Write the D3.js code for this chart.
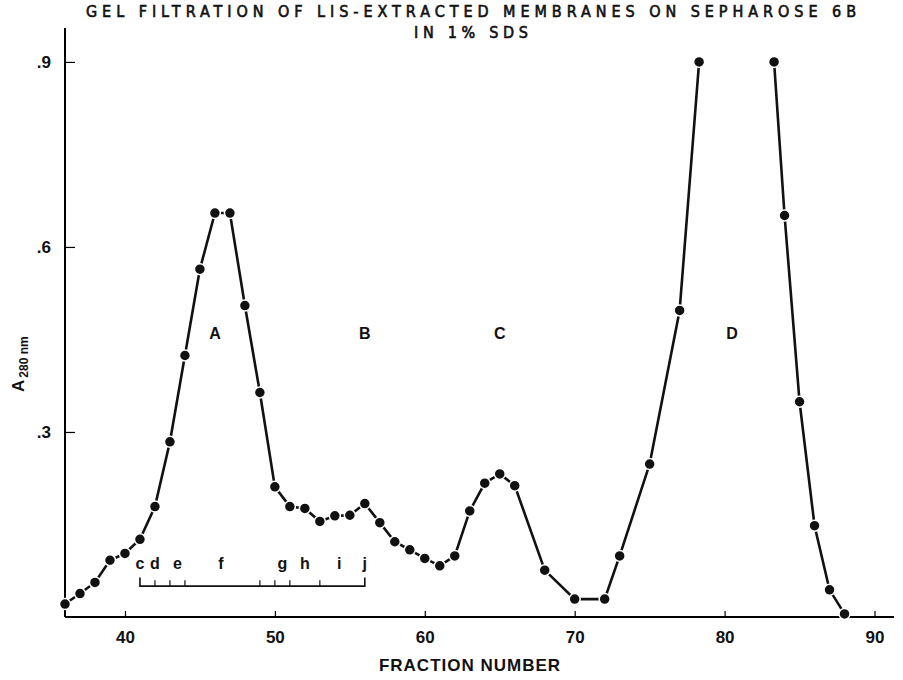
<!DOCTYPE html>
<html>
<head>
<meta charset="utf-8">
<script src="https://cdn.jsdelivr.net/npm/d3@7"></script>
<style>
  body { margin: 0; background: #fff; }
  text { font-family: "Liberation Sans", Arial, sans-serif; fill: #111; }
</style>
</head>
<body>
<svg id="chart"></svg>
<script>
// fraction numbers and A280 readings
var fractions = [36, 37, 38, 39, 40, 41, 42, 43, 44, 45, 46, 47, 48, 49, 50, 51, 52, 53, 54, 55,
  56, 57, 58, 59, 60, 61, 62, 63, 64, 65, 66, 68, 70, 72, 73, 75, 77, 78.3, 83.3, 84, 85, 86, 87, 88];
var absorbance = [0.021, 0.038, 0.056, 0.092, 0.103, 0.126, 0.179, 0.284, 0.424, 0.564, 0.655, 0.655,
  0.505, 0.364, 0.211, 0.179, 0.176, 0.155, 0.164, 0.165, 0.184, 0.153, 0.122, 0.109, 0.095, 0.083,
  0.099, 0.172, 0.217, 0.232, 0.213, 0.076, 0.029, 0.029, 0.099, 0.248, 0.497, 0.9, 0.9, 0.651,
  0.349, 0.148, 0.044, 0.005];

var xTicks = [40, 50, 60, 70, 80, 90];
var yTicks = [0.3, 0.6, 0.9];

var peakNames = ['A', 'B', 'C', 'D'];
var peakFractions = [46, 56, 65, 80.5];
var peakLevel = 0.46;

// pooled fractions bracket
var poolStart = 41, poolEnd = 56;
var poolTicks = [42, 43, 44, 49, 50, 51, 53];
var poolNames = ['c', 'd', 'e', 'f', 'g', 'h', 'i', 'j'];
var poolNameAt = [41, 42, 43.5, 46.4, 50.5, 52, 54.3, 56];

var W = 903, H = 680;
var svg = d3.select('#chart').attr('width', W).attr('height', H);

var x = d3.scaleLinear().domain([36, 91.3]).range([65, 894]);
var y = d3.scaleLinear().domain([0, 0.955]).range([617, 28]);

var data = fractions.map((f, i) => ({ f: f, v: absorbance[i] }));

var font = '"Liberation Sans", Arial, sans-serif';
var narrow = '"Liberation Sans Narrow", "DejaVu Sans Condensed", "Liberation Sans", sans-serif';

// x axis
var xAxis = d3.axisBottom(x).tickValues(xTicks).tickSize(-6).tickPadding(14).tickFormat(d3.format('d'));
var gx = svg.append('g').attr('transform', `translate(0, ${ y(0) })`).call(xAxis);
gx.select('.domain').attr('stroke-width', 2).attr('d', `M${ x.range()[0] },0H${ x.range()[1] }`);
gx.selectAll('.tick line').attr('stroke-width', 1.2);
gx.selectAll('.tick text').attr('font-size', 17).attr('font-weight', 'bold').style('font-family', font);

// y axis
var yAxis = d3.axisLeft(y).tickValues(yTicks).tickSize(-10).tickPadding(14)
  .tickFormat(d => d3.format('.1f')(d).replace(/^0/, ''));
var gy = svg.append('g').attr('transform', `translate(${ x(36) }, 0)`).call(yAxis);
gy.select('.domain').attr('stroke-width', 2).attr('d', `M0,${ y.range()[0] }V${ y.range()[1] }`);
gy.selectAll('.tick line').attr('stroke-width', 1.2);
gy.selectAll('.tick text').attr('font-size', 17).attr('font-weight', 'bold').style('font-family', font);

// title
svg.append('text')
  .attr('x', 471).attr('y', 17)
  .attr('text-anchor', 'middle')
  .attr('font-size', 16)
  .style('font-family', narrow)
  .attr('stroke', '#111').attr('stroke-width', 0.6)
  .attr('textLength', 770).attr('lengthAdjust', 'spacing')
  .text('GEL FILTRATION OF LIS-EXTRACTED MEMBRANES ON SEPHAROSE 6B');
svg.append('text')
  .attr('x', 471).attr('y', 38)
  .attr('text-anchor', 'middle')
  .attr('font-size', 16)
  .style('font-family', narrow)
  .attr('stroke', '#111').attr('stroke-width', 0.6)
  .attr('textLength', 114).attr('lengthAdjust', 'spacing')
  .text('IN 1% SDS');

// axis titles
svg.append('text')
  .attr('x', 470).attr('y', 671)
  .attr('text-anchor', 'middle')
  .attr('font-size', 17).attr('font-weight', 'bold')
  .attr('letter-spacing', 1)
  .text('FRACTION NUMBER');

var ylab = svg.append('text')
  .attr('transform', 'translate(24, 392) rotate(-90)')
  .attr('font-size', 17).attr('font-weight', 'bold');
ylab.append('tspan').text('A');
ylab.append('tspan').attr('dy', 4).attr('dx', 2).attr('font-size', 12).text('280 nm');

// curve, broken where it runs off scale
var line = d3.line().x(d => x(d.f)).y(d => y(d.v));
var segments = [data.filter(d => d.f <= 78.3), data.filter(d => d.f >= 83.3)];
svg.selectAll('.seg')
  .data(segments)
  .enter().append('path')
  .attr('class', 'seg')
  .attr('d', line)
  .attr('fill', 'none')
  .attr('stroke', '#111')
  .attr('stroke-width', 2.6);

svg.selectAll('.pt')
  .data(data)
  .enter().append('circle')
  .attr('class', 'pt')
  .attr('cx', d => x(d.f))
  .attr('cy', d => y(d.v))
  .attr('r', 5.5)
  .attr('fill', '#111')
  .attr('stroke', '#fff')
  .attr('stroke-width', 1.5);

// peak letters
svg.selectAll('.peak')
  .data(peakNames)
  .enter().append('text')
  .attr('class', 'peak')
  .attr('x', (d, i) => x(peakFractions[i]))
  .attr('y', y(peakLevel) + 6)
  .attr('text-anchor', 'middle')
  .attr('font-size', 16).attr('font-weight', 'bold')
  .text(d => d);

// bracket of pooled fractions
var by = y(0.05), bt = y(0.064);
var bracket = svg.append('g').attr('stroke', '#111').attr('fill', 'none');
bracket.append('path')
  .attr('d', `M${ x(poolStart) },${ bt }V${ by }H${ x(poolEnd) }V${ bt }`)
  .attr('stroke-width', 1.6);
bracket.selectAll('line')
  .data(poolTicks)
  .enter().append('line')
  .attr('x1', d => x(d)).attr('x2', d => x(d))
  .attr('y1', by).attr('y2', by - 6)
  .attr('stroke-width', 1.2);

svg.selectAll('.pool')
  .data(poolNames)
  .enter().append('text')
  .attr('class', 'pool')
  .attr('x', (d, i) => x(poolNameAt[i]))
  .attr('y', y(0.078))
  .attr('text-anchor', 'middle')
  .attr('font-size', 16).attr('font-weight', 'bold')
  .text(d => d);
</script>
</body>
</html>
